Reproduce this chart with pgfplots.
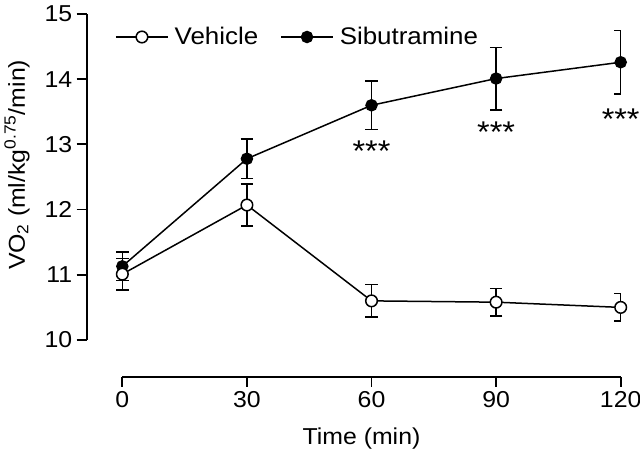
\documentclass[border=0pt]{standalone}
\usepackage{pgfplots}
\pgfplotsset{compat=1.18}
\usepackage{fontspec}
\setmainfont{Liberation Sans}[FakeStretch=1.08]
\pgfdeclareplotmark{leftcap}{%
  \pgfpathmoveto{\pgfqpoint{-\pgfplotmarksize}{0pt}}%
  \pgfpathlineto{\pgfqpoint{0pt}{0pt}}%
  \pgfusepathqstroke}
\begin{document}
\begin{tikzpicture}
\useasboundingbox (0,0) rectangle (640pt,450pt);
\begin{axis}[
  at={(86.7pt,73.3pt)}, anchor=south west,
  scale only axis, width=534pt, height=362.7pt,
  xmin=-8.58, xmax=120, ymin=9.437, ymax=15,
  axis x line=bottom, axis y line=left,
  axis line style={draw=none},
  clip=false,
  xtick={0,30,60,90,120}, ytick={10,11,12,13,14,15},
  tick align=outside, major tick length=10pt,
  every tick/.style={black, line width=1.8pt},
  /pgf/number format/assume math mode=true,
  tick label style={font=\fontsize{23}{26}\selectfont},
  xticklabel style={yshift=-1pt},
  yticklabel style={xshift=-1pt},
  xlabel={Time (min)}, ylabel={VO\textsubscript{2} (ml/kg\textsuperscript{0.75}/min)},
  every axis x label/.style={at={(rel axis cs:0.5146,-0.1856)}, anchor=base, font=\fontsize{23}{26}\selectfont},
  every axis y label/.style={at={(rel axis cs:-0.1305,0.584)}, anchor=center, rotate=90, font=\fontsize{23}{26}\selectfont},
  legend columns=2, reverse legend,
  legend style={draw=none, fill=none, at={(rel axis cs:0.053,0.9366)}, anchor=west, inner sep=0pt,
    font=\fontsize{24}{26}\selectfont, /tikz/every even column/.append style={column sep=20pt}},
  legend image code/.code={\draw[mark repeat=2,mark phase=2,#1] plot coordinates {(0pt,0pt) (26pt,0pt) (52pt,0pt)};},
]
% Sibutramine error bars
\addplot[only marks, mark=none, forget plot,
  error bars/.cd, y dir=both, y explicit, error mark=|,
  error bar style={black, line width=1.5pt},
  error mark options={black, mark size=6.3pt, line width=1.5pt}]
  coordinates {(0,11.13) +- (0,0.22) (30,12.78) +- (0,0.30) (60,13.60) +- (0,0.37) (90,14.01) +- (0,0.48)};
\addplot[only marks, mark=none, forget plot,
  error bars/.cd, y dir=both, y explicit, error mark=none,
  error bar style={black, line width=1.5pt}]
  coordinates {(120,14.26) +- (0,0.49)};
\addplot[only marks, mark=leftcap, mark size=6.3pt, line width=1.5pt, black, forget plot]
  coordinates {(120,14.75) (120,13.77)};
\addplot[black, line width=1.5pt, mark=*, mark size=5.5pt, mark options={fill=black, solid}]
  coordinates {(0,11.13) (30,12.78) (60,13.60) (90,14.01) (120,14.26)};
\addlegendentry{\hspace{4pt}Sibutramine}
% Vehicle error bars
\addplot[only marks, mark=none, forget plot,
  error bars/.cd, y dir=both, y explicit, error mark=|,
  error bar style={black, line width=1.5pt},
  error mark options={black, mark size=6.3pt, line width=1.5pt}]
  coordinates {(0,11.01) +- (0,0.24) (30,12.07) +- (0,0.32) (60,10.60) +- (0,0.25) (90,10.58) +- (0,0.21)};
\addplot[only marks, mark=none, forget plot,
  error bars/.cd, y dir=both, y explicit, error mark=none,
  error bar style={black, line width=1.5pt}]
  coordinates {(120,10.50) +- (0,0.21)};
\addplot[only marks, mark=leftcap, mark size=6.3pt, line width=1.5pt, black, forget plot]
  coordinates {(120,10.71) (120,10.29)};
\addplot[black, line width=1.5pt, mark=*, mark size=5.8pt, mark options={fill=white, draw=black, solid}]
  coordinates {(0,11.01) (30,12.07) (60,10.60) (90,10.58) (120,10.50)};
\addlegendentry{\hspace{4pt}Vehicle}
% axis lines
\draw[line width=1.8pt] (axis cs:0,9.437) -- (axis cs:120,9.437);
\draw[line width=1.8pt] (axis cs:-8.58,10) -- (axis cs:-8.58,15);
% significance
\node[font=\fontsize{30}{32}\selectfont] at (axis cs:60,12.90) {***};
\node[font=\fontsize{30}{32}\selectfont] at (axis cs:90,13.18) {***};
\node[font=\fontsize{30}{32}\selectfont] at (axis cs:120,13.38) {***};
\end{axis}
\end{tikzpicture}
\end{document}
